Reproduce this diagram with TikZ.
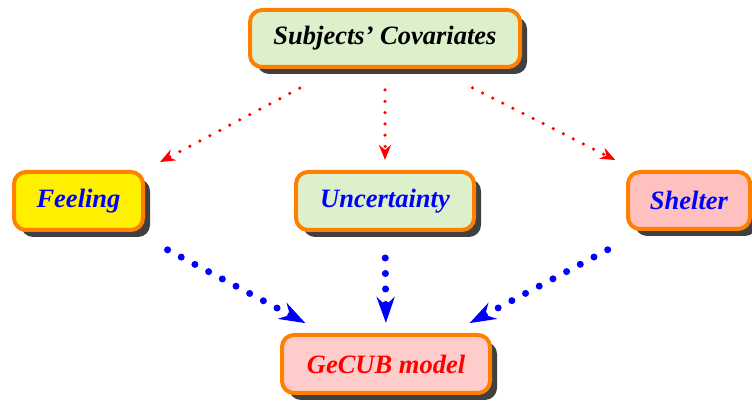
\documentclass[tikz,border=0pt]{standalone}
\usepackage{fontspec}
\setmainfont{Liberation Serif}
\usetikzlibrary{arrows.meta, shadows}
\definecolor{boxorange}{HTML}{FF8000}
\definecolor{shadowgray}{HTML}{404040}
\definecolor{lightgreen}{HTML}{DDF0CC}
\definecolor{lightyellow}{HTML}{FFF000}
\definecolor{lightpink}{HTML}{FFC0C0}
\definecolor{palepink}{HTML}{FFCCCC}

\begin{document}
\begin{tikzpicture}[
      x=1pt, y=1pt,
      block/.style={draw=boxorange, line width=4pt, rounded corners=12pt, minimum height=58pt,
        align=center, font=\fontsize{26.5}{30}\selectfont\bfseries\itshape,
        drop shadow={shadow xshift=7pt, shadow yshift=-7pt, fill=shadowgray, opacity=1}},
      covarrow/.style={red, line width=3.5pt, line cap=round, dash pattern=on 0pt off 11.3pt,
        -{Stealth[length=15pt, width=12pt]}},
      modelarrow/.style={blue, line width=7pt, line cap=round, dash pattern=on 0pt off 15.5pt,
        -{Stealth[length=26pt, width=18pt]}}
    ]
    \useasboundingbox (0,0) rectangle (752,401);
    \node[block, fill=lightgreen, minimum width=270pt, minimum height=57pt] (covar) at (385,362.5) {Subjects' Covariates};
    \node[block, fill=lightyellow, text=blue, minimum width=129pt] (feel) at (78.5,200) {Feeling};
    \node[block, fill=lightgreen, text=blue, minimum width=178pt] (uncert) at (385,200) {Uncertainty};
    \node[block, fill=lightpink, text=blue, minimum width=122pt, minimum height=57pt] (shelter) at (689,200.5) {Shelter};
    \node[block, fill=palepink, text=red, minimum width=208pt] (gecub) at (386,37) {GeCUB model};

    \draw[covarrow, shorten <=41pt, shorten >=17pt] ([xshift=-49pt]covar.south) -- (feel.north east);
    \draw[covarrow, shorten <=21pt, shorten >=10pt] (covar.south) -- (uncert.north);
    \draw[covarrow, shorten <=42pt, shorten >=22pt] ([xshift=50pt]covar.south) -- ([xshift=9pt]shelter.north west);

    \draw[modelarrow, shorten <=38pt, shorten >=21pt] ([xshift=-11pt]feel.south east) -- ([xshift=-62pt]gecub.north);
    \draw[modelarrow, shorten <=26pt, shorten >=10pt] (uncert.south) -- (gecub.north);
    \draw[modelarrow, shorten <=40pt, shorten >=21pt] ([xshift=17pt]shelter.south west) -- ([xshift=65pt]gecub.north);
  \end{tikzpicture}
\end{document}
